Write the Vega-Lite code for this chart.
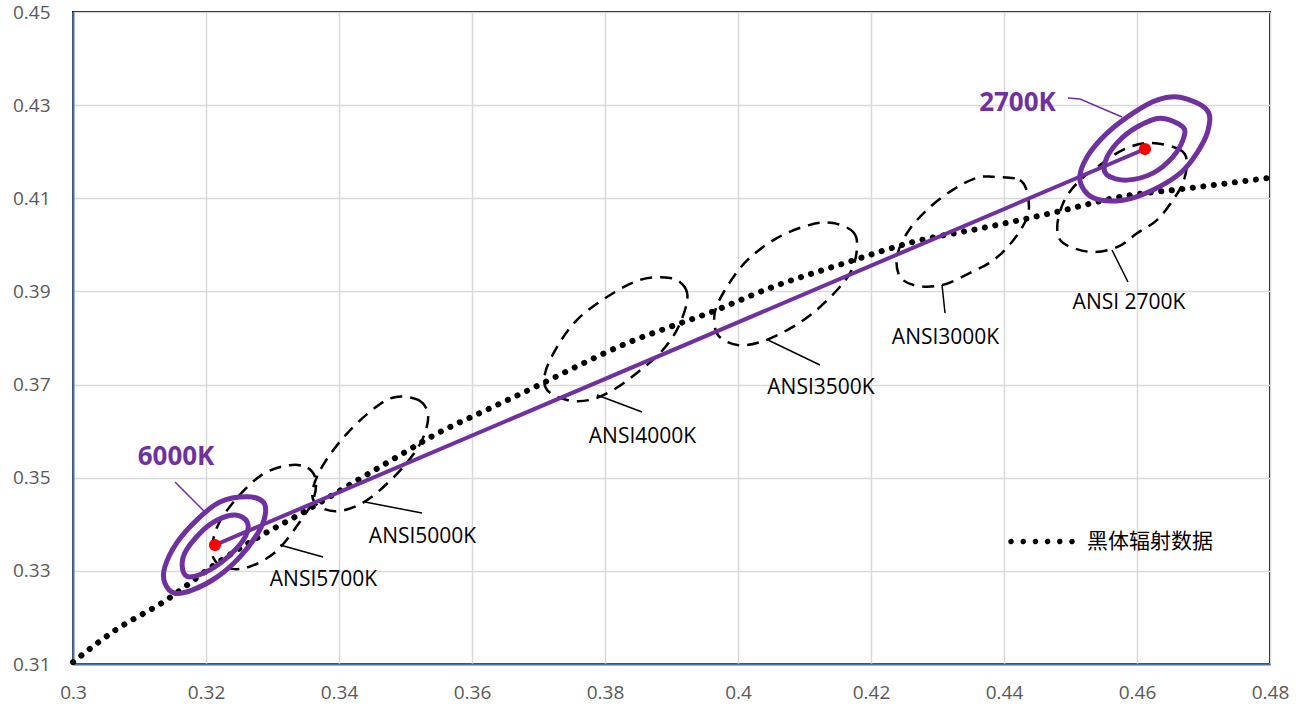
{
  "$schema": "https://vega.github.io/schema/vega-lite/v6.json",
  "width": 1197,
  "height": 652,
  "autosize": {"type": "none"},
  "padding": {"left": 73, "top": 12, "right": 40, "bottom": 49},
  "background": "white",
  "config": {
    "font": "Open Sans",
    "view": {"stroke": "black", "strokeWidth": 2},
    "axis": {
      "title": null,
      "ticks": false,
      "labelFont": "Open Sans",
      "labelFontSize": 19,
      "labelColor": "#595959",
      "domainColor": "#4A72B0",
      "domainWidth": 2,
      "gridColor": "#D9D9D9",
      "gridWidth": 1.5,
      "labelFlush": false,
      "labelOverlap": false,
      "labelBound": false
    }
  },
  "datasets": {
    "ansi": [
      {"e":"5700K","i":1,"x":0.3326,"y":0.3527},
      {"e":"5700K","i":2,"x":0.3353,"y":0.3521},
      {"e":"5700K","i":3,"x":0.3365,"y":0.3495},
      {"e":"5700K","i":4,"x":0.3361,"y":0.3452},
      {"e":"5700K","i":5,"x":0.3341,"y":0.3405},
      {"e":"5700K","i":6,"x":0.3304,"y":0.3340},
      {"e":"5700K","i":7,"x":0.3259,"y":0.3306},
      {"e":"5700K","i":8,"x":0.3224,"y":0.3310},
      {"e":"5700K","i":9,"x":0.3209,"y":0.3340},
      {"e":"5700K","i":10,"x":0.3218,"y":0.3398},
      {"e":"5700K","i":11,"x":0.3248,"y":0.3459},
      {"e":"5700K","i":12,"x":0.3286,"y":0.3508},
      {"e":"5000K","i":1,"x":0.3484,"y":0.3673},
      {"e":"5000K","i":2,"x":0.3519,"y":0.3667},
      {"e":"5000K","i":3,"x":0.3534,"y":0.3635},
      {"e":"5000K","i":4,"x":0.3525,"y":0.3581},
      {"e":"5000K","i":5,"x":0.3499,"y":0.3527},
      {"e":"5000K","i":6,"x":0.3462,"y":0.3474},
      {"e":"5000K","i":7,"x":0.3429,"y":0.3441},
      {"e":"5000K","i":8,"x":0.3394,"y":0.3428},
      {"e":"5000K","i":9,"x":0.3365,"y":0.3444},
      {"e":"5000K","i":10,"x":0.3361,"y":0.3478},
      {"e":"5000K","i":11,"x":0.3379,"y":0.3534},
      {"e":"5000K","i":12,"x":0.3414,"y":0.3598},
      {"e":"5000K","i":13,"x":0.3454,"y":0.3650},
      {"e":"4000K","i":1,"x":0.3898,"y":0.3929},
      {"e":"4000K","i":2,"x":0.3920,"y":0.3909},
      {"e":"4000K","i":3,"x":0.3923,"y":0.3875},
      {"e":"4000K","i":4,"x":0.3908,"y":0.3817},
      {"e":"4000K","i":5,"x":0.3883,"y":0.3768},
      {"e":"4000K","i":6,"x":0.3848,"y":0.3725},
      {"e":"4000K","i":7,"x":0.3812,"y":0.3688},
      {"e":"4000K","i":8,"x":0.3777,"y":0.3667},
      {"e":"4000K","i":9,"x":0.3743,"y":0.3667},
      {"e":"4000K","i":10,"x":0.3713,"y":0.3688},
      {"e":"4000K","i":11,"x":0.3710,"y":0.3725},
      {"e":"4000K","i":12,"x":0.3728,"y":0.3781},
      {"e":"4000K","i":13,"x":0.3758,"y":0.3839},
      {"e":"4000K","i":14,"x":0.3803,"y":0.3888},
      {"e":"4000K","i":15,"x":0.3853,"y":0.3925},
      {"e":"3500K","i":1,"x":0.4143,"y":0.4047},
      {"e":"3500K","i":2,"x":0.4173,"y":0.4028},
      {"e":"3500K","i":3,"x":0.4179,"y":0.3995},
      {"e":"3500K","i":4,"x":0.4171,"y":0.3946},
      {"e":"3500K","i":5,"x":0.4149,"y":0.3903},
      {"e":"3500K","i":6,"x":0.4113,"y":0.3854},
      {"e":"3500K","i":7,"x":0.4074,"y":0.3817},
      {"e":"3500K","i":8,"x":0.4033,"y":0.3791},
      {"e":"3500K","i":9,"x":0.3999,"y":0.3785},
      {"e":"3500K","i":10,"x":0.3970,"y":0.3806},
      {"e":"3500K","i":11,"x":0.3965,"y":0.3854},
      {"e":"3500K","i":12,"x":0.3983,"y":0.3909},
      {"e":"3500K","i":13,"x":0.4014,"y":0.3967},
      {"e":"3500K","i":14,"x":0.4059,"y":0.4015},
      {"e":"3500K","i":15,"x":0.4108,"y":0.4043},
      {"e":"3000K","i":1,"x":0.4384,"y":0.4146},
      {"e":"3000K","i":2,"x":0.4424,"y":0.4139},
      {"e":"3000K","i":3,"x":0.4436,"y":0.4103},
      {"e":"3000K","i":4,"x":0.4435,"y":0.4060},
      {"e":"3000K","i":5,"x":0.4414,"y":0.4010},
      {"e":"3000K","i":6,"x":0.4384,"y":0.3967},
      {"e":"3000K","i":7,"x":0.4349,"y":0.3940},
      {"e":"3000K","i":8,"x":0.4308,"y":0.3914},
      {"e":"3000K","i":9,"x":0.4269,"y":0.3912},
      {"e":"3000K","i":10,"x":0.4244,"y":0.3931},
      {"e":"3000K","i":11,"x":0.4239,"y":0.3974},
      {"e":"3000K","i":12,"x":0.4254,"y":0.4025},
      {"e":"3000K","i":13,"x":0.4284,"y":0.4075},
      {"e":"3000K","i":14,"x":0.4323,"y":0.4118},
      {"e":"3000K","i":15,"x":0.4359,"y":0.4144},
      {"e":"2700K","i":1,"x":0.4620,"y":0.4219},
      {"e":"2700K","i":2,"x":0.4665,"y":0.4204},
      {"e":"2700K","i":3,"x":0.4675,"y":0.4176},
      {"e":"2700K","i":4,"x":0.4669,"y":0.4133},
      {"e":"2700K","i":5,"x":0.4654,"y":0.4096},
      {"e":"2700K","i":6,"x":0.4630,"y":0.4053},
      {"e":"2700K","i":7,"x":0.4600,"y":0.4025},
      {"e":"2700K","i":8,"x":0.4570,"y":0.3995},
      {"e":"2700K","i":9,"x":0.4529,"y":0.3985},
      {"e":"2700K","i":10,"x":0.4489,"y":0.4004},
      {"e":"2700K","i":11,"x":0.4480,"y":0.4038},
      {"e":"2700K","i":12,"x":0.4489,"y":0.4090},
      {"e":"2700K","i":13,"x":0.4510,"y":0.4133},
      {"e":"2700K","i":14,"x":0.4540,"y":0.4167},
      {"e":"2700K","i":15,"x":0.4579,"y":0.4204}
    ],
    "cct": [
      {"e":"6000K outer","i":1,"x":0.3262,"y":0.3459},
      {"e":"6000K outer","i":2,"x":0.3286,"y":0.3448},
      {"e":"6000K outer","i":3,"x":0.3289,"y":0.3420},
      {"e":"6000K outer","i":4,"x":0.3278,"y":0.3381},
      {"e":"6000K outer","i":5,"x":0.3251,"y":0.3330},
      {"e":"6000K outer","i":6,"x":0.3217,"y":0.3287},
      {"e":"6000K outer","i":7,"x":0.3180,"y":0.3259},
      {"e":"6000K outer","i":8,"x":0.3153,"y":0.3252},
      {"e":"6000K outer","i":9,"x":0.3138,"y":0.3274},
      {"e":"6000K outer","i":10,"x":0.3138,"y":0.3308},
      {"e":"6000K outer","i":11,"x":0.3156,"y":0.3360},
      {"e":"6000K outer","i":12,"x":0.3186,"y":0.3409},
      {"e":"6000K outer","i":13,"x":0.3221,"y":0.3448},
      {"e":"6000K inner","i":1,"x":0.3244,"y":0.3420},
      {"e":"6000K inner","i":2,"x":0.3262,"y":0.3405},
      {"e":"6000K inner","i":3,"x":0.3259,"y":0.3373},
      {"e":"6000K inner","i":4,"x":0.3236,"y":0.3334},
      {"e":"6000K inner","i":5,"x":0.3206,"y":0.3302},
      {"e":"6000K inner","i":6,"x":0.3176,"y":0.3287},
      {"e":"6000K inner","i":7,"x":0.3165,"y":0.3302},
      {"e":"6000K inner","i":8,"x":0.3168,"y":0.3338},
      {"e":"6000K inner","i":9,"x":0.3191,"y":0.3381},
      {"e":"6000K inner","i":10,"x":0.3217,"y":0.3409},
      {"e":"2700K outer","i":1,"x":0.4665,"y":0.4317},
      {"e":"2700K outer","i":2,"x":0.4705,"y":0.4290},
      {"e":"2700K outer","i":3,"x":0.4707,"y":0.4247},
      {"e":"2700K outer","i":4,"x":0.4690,"y":0.4197},
      {"e":"2700K outer","i":5,"x":0.4665,"y":0.4154},
      {"e":"2700K outer","i":6,"x":0.4624,"y":0.4118},
      {"e":"2700K outer","i":7,"x":0.4579,"y":0.4096},
      {"e":"2700K outer","i":8,"x":0.4534,"y":0.4101},
      {"e":"2700K outer","i":9,"x":0.4514,"y":0.4139},
      {"e":"2700K outer","i":10,"x":0.4525,"y":0.4189},
      {"e":"2700K outer","i":11,"x":0.4555,"y":0.4240},
      {"e":"2700K outer","i":12,"x":0.4594,"y":0.4283},
      {"e":"2700K outer","i":13,"x":0.4630,"y":0.4311},
      {"e":"2700K inner","i":1,"x":0.4635,"y":0.4272},
      {"e":"2700K inner","i":2,"x":0.4669,"y":0.4253},
      {"e":"2700K inner","i":3,"x":0.4669,"y":0.4225},
      {"e":"2700K inner","i":4,"x":0.4654,"y":0.4189},
      {"e":"2700K inner","i":5,"x":0.4624,"y":0.4154},
      {"e":"2700K inner","i":6,"x":0.4585,"y":0.4139},
      {"e":"2700K inner","i":7,"x":0.4555,"y":0.4150},
      {"e":"2700K inner","i":8,"x":0.4552,"y":0.4178},
      {"e":"2700K inner","i":9,"x":0.4570,"y":0.4219},
      {"e":"2700K inner","i":10,"x":0.4600,"y":0.4253}
    ],
    "bb": [
      {"x":0.3000,"y":0.3104},
      {"x":0.3062,"y":0.3171},
      {"x":0.3140,"y":0.3237},
      {"x":0.3217,"y":0.3317},
      {"x":0.3277,"y":0.3371},
      {"x":0.3344,"y":0.3424},
      {"x":0.3421,"y":0.3489},
      {"x":0.3484,"y":0.3542},
      {"x":0.3549,"y":0.3596},
      {"x":0.3615,"y":0.3641},
      {"x":0.3698,"y":0.3697},
      {"x":0.3762,"y":0.3742},
      {"x":0.3833,"y":0.3789},
      {"x":0.3902,"y":0.3826},
      {"x":0.3953,"y":0.3852},
      {"x":0.4053,"y":0.3910},
      {"x":0.4161,"y":0.3961},
      {"x":0.4263,"y":0.4006},
      {"x":0.4374,"y":0.4038},
      {"x":0.4480,"y":0.4071},
      {"x":0.4574,"y":0.4103},
      {"x":0.4680,"y":0.4122},
      {"x":0.4800,"y":0.4144}
    ],
    "centers": [
      {"n":"6000K","x":0.32135,"y":0.33555},
      {"n":"2700K","x":0.4612,"y":0.42058}
    ],
    "leadersANSI": [
      {"g":"5700K","i":1,"x":0.33113,"y":0.33555},
      {"g":"5700K","i":2,"x":0.3376,"y":0.33297},
      {"g":"5000K","i":1,"x":0.34391,"y":0.34478},
      {"g":"5000K","i":2,"x":0.35248,"y":0.34242},
      {"g":"4000K","i":1,"x":0.3788,"y":0.36776},
      {"g":"4000K","i":2,"x":0.38557,"y":0.36411},
      {"g":"3500K","i":1,"x":0.40451,"y":0.37957},
      {"g":"3500K","i":2,"x":0.41233,"y":0.3742},
      {"g":"3000K","i":1,"x":0.43068,"y":0.39138},
      {"g":"3000K","i":2,"x":0.43113,"y":0.38537},
      {"g":"2700K","i":1,"x":0.45624,"y":0.39889},
      {"g":"2700K","i":2,"x":0.45865,"y":0.39202}
    ],
    "leadersCCT": [
      {"g":"6000K","i":1,"x":0.31534,"y":0.34908},
      {"g":"6000K","i":2,"x":0.31985,"y":0.34263},
      {"g":"2700K","i":1,"x":0.44963,"y":0.43153},
      {"g":"2700K","i":2,"x":0.45143,"y":0.43132},
      {"g":"2700K","i":3,"x":0.45775,"y":0.42745}
    ],
    "labelsANSI": [
      {"t":"ANSI5700K","x":0.33767,"y":0.32803},
      {"t":"ANSI5000K","x":0.35256,"y":0.33727},
      {"t":"ANSI4000K","x":0.38564,"y":0.35874},
      {"t":"ANSI3500K","x":0.41248,"y":0.36926},
      {"t":"ANSI3000K","x":0.43121,"y":0.38},
      {"t":"ANSI 2700K","x":0.4588,"y":0.38751}
    ],
    "labelsCCT": [
      {"t":"6000K","x":0.31549,"y":0.35445},
      {"t":"2700K","x":0.44203,"y":0.43046}
    ]
  },
  "encoding": {
    "x": {
      "field": "x",
      "type": "quantitative",
      "scale": {"domain": [0.3, 0.48], "nice": false, "zero": false},
      "axis": {"values": [0.3, 0.32, 0.34, 0.36, 0.38, 0.4, 0.42, 0.44, 0.46, 0.48], "format": ".2~f", "labelPadding": 19}
    },
    "y": {
      "field": "y",
      "type": "quantitative",
      "scale": {"domain": [0.31, 0.45], "nice": false, "zero": false},
      "axis": {"values": [0.31, 0.33, 0.35, 0.37, 0.39, 0.41, 0.43, 0.45], "format": ".2~f", "labelPadding": 23}
    }
  },
  "layer": [
    {
      "data": {"name": "ansi"},
      "mark": {"type": "line", "interpolate": "cardinal-closed", "stroke": "black", "strokeWidth": 2.5, "strokeDash": [12, 8]},
      "encoding": {"detail": {"field": "e"}, "order": {"field": "i", "type": "quantitative"}}
    },
    {
      "data": {"name": "bb"},
      "mark": {"type": "line", "interpolate": "monotone", "strokeWidth": 6, "strokeDash": [0.1, 10.5], "strokeCap": "round"},
      "encoding": {
        "color": {
          "datum": "黑体辐射数据",
          "scale": {"range": ["black"]},
          "legend": {
            "title": null,
            "orient": "none",
            "legendX": 931,
            "legendY": 492,
            "padding": 0,
            "symbolType": "M -0.882 0 A 0.035 0.035 0 1 0 -0.812 0 A 0.035 0.035 0 1 0 -0.882 0 Z M -0.543 0 A 0.035 0.035 0 1 0 -0.473 0 A 0.035 0.035 0 1 0 -0.543 0 Z M -0.204 0 A 0.035 0.035 0 1 0 -0.134 0 A 0.035 0.035 0 1 0 -0.204 0 Z M 0.134 0 A 0.035 0.035 0 1 0 0.204 0 A 0.035 0.035 0 1 0 0.134 0 Z M 0.473 0 A 0.035 0.035 0 1 0 0.543 0 A 0.035 0.035 0 1 0 0.473 0 Z M 0.812 0 A 0.035 0.035 0 1 0 0.882 0 A 0.035 0.035 0 1 0 0.812 0 Z",
            "symbolSize": 5184,
            "symbolStrokeWidth": 3,
            "symbolStrokeColor": "black",
            "symbolFillColor": "black",
            "symbolDash": [1, 0],
            "labelFont": "Noto Sans CJK SC",
            "labelFontSize": 21,
            "labelColor": "black",
            "labelOffset": 8
          }
        }
      }
    },
    {
      "data": {"name": "centers"},
      "mark": {"type": "line", "color": "#7030A0", "strokeWidth": 4},
      "encoding": {}
    },
    {
      "data": {"name": "cct"},
      "mark": {"type": "line", "interpolate": "cardinal-closed", "color": "#7030A0", "strokeWidth": 5},
      "encoding": {"detail": {"field": "e"}, "order": {"field": "i", "type": "quantitative"}}
    },
    {
      "data": {"name": "centers"},
      "mark": {"type": "point", "filled": true, "color": "#FF0000", "size": 150, "opacity": 1},
      "encoding": {}
    },
    {
      "data": {"name": "leadersANSI"},
      "mark": {"type": "line", "color": "black", "strokeWidth": 1.5},
      "encoding": {"detail": {"field": "g"}, "order": {"field": "i", "type": "quantitative"}}
    },
    {
      "data": {"name": "leadersCCT"},
      "mark": {"type": "line", "color": "#7030A0", "strokeWidth": 1.5},
      "encoding": {"detail": {"field": "g"}, "order": {"field": "i", "type": "quantitative"}}
    },
    {
      "data": {"name": "labelsANSI"},
      "mark": {"type": "text", "font": "Open Sans", "fontSize": 21, "color": "black", "align": "center", "baseline": "middle"},
      "encoding": {"text": {"field": "t"}}
    },
    {
      "data": {"name": "labelsCCT"},
      "mark": {"type": "text", "font": "Open Sans", "fontSize": 26, "fontWeight": "bold", "color": "#7030A0", "align": "center", "baseline": "middle"},
      "encoding": {"text": {"field": "t"}}
    }
  ]
}
